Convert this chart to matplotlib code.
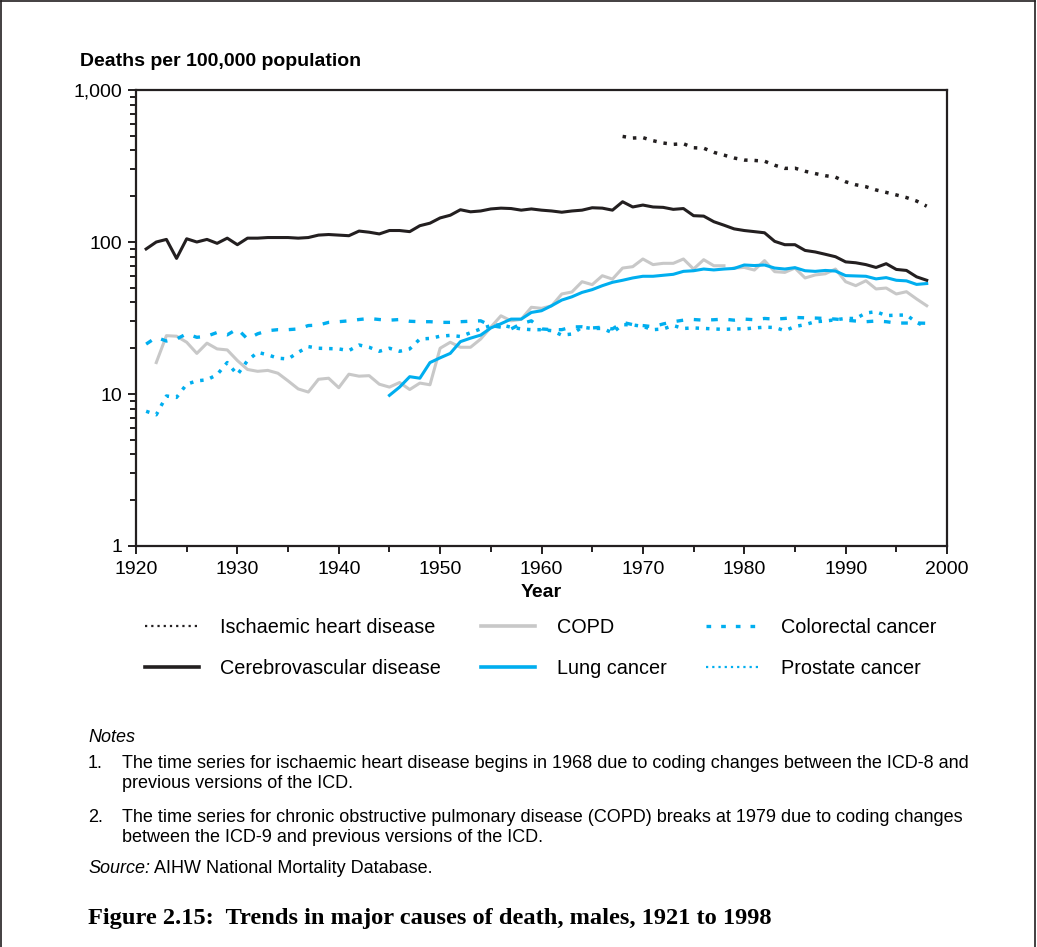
import matplotlib
matplotlib.use("Agg")
import matplotlib.pyplot as plt
from matplotlib.lines import Line2D
from matplotlib.ticker import FixedLocator, FuncFormatter, MultipleLocator, NullFormatter

# deaths per 100,000 population, males
years = list(range(1921, 1999))

cerebrovascular = [
    90, 100, 104, 78, 105, 100, 104, 98, 106, 96,
    106, 106, 107, 107, 107, 106, 107, 111, 112, 111,
    110, 118, 116, 113, 119, 119, 117, 128, 133, 144,
    150, 163, 158, 160, 165, 167, 166, 162, 165, 162,
    160, 157, 160, 162, 168, 167, 162, 184, 170, 175,
    170, 169, 164, 166, 149, 148, 136, 129, 122, 119,
    117, 115, 101, 96, 96, 88, 86, 83, 80, 74,
    73, 71, 68, 72, 66, 65, 59, 56,
]

ihd_years = list(range(1968, 1999))
ischaemic = [
    495, 483, 486, 464, 448, 439, 443, 417, 414, 389,
    373, 357, 346, 344, 340, 320, 305, 306, 292, 282,
    273, 267, 249, 238, 231, 220, 212, 204, 196, 186, 172,
]

copd_early_years = list(range(1922, 1979))
copd_early = [
    16.1, 24.2, 24.0, 21.9, 18.5, 21.6, 19.8, 19.5, 16.6, 14.5,
    14.1, 14.3, 13.7, 12.2, 10.8, 10.3, 12.5, 12.7, 11.0, 13.5,
    13.1, 13.2, 11.6, 11.1, 11.9, 10.7, 11.8, 11.5, 20.0, 21.9,
    20.3, 20.3, 23.0, 27.5, 32.7, 30.3, 31.0, 37.2, 36.6, 38.0,
    45.5, 46.9, 54.8, 52.4, 60.0, 57.0, 67.4, 68.8, 77.3, 71.0,
    72.4, 72.4, 77.3, 66.4, 76.5, 69.8, 69.8,
]
copd_late_years = list(range(1979, 1999))
copd_late = [
    67.4, 68.0, 65.4, 75.4, 63.8, 63.1, 67.4, 58.0, 60.7, 61.8,
    66.4, 54.8, 51.6, 55.6, 49.1, 49.8, 45.5, 47.1, 42.2, 38.1,
]

lung_years = list(range(1945, 1999))
lung = [
    9.8, 11.1, 13.0, 12.7, 16.1, 17.3, 18.5, 22.1, 23.3, 24.4,
    27.2, 29.0, 31.1, 31.1, 34.4, 35.3, 38.1, 41.5, 43.6, 46.6,
    48.6, 51.6, 54.3, 56.0, 58.0, 59.5, 59.5, 60.4, 61.3, 64.1,
    64.7, 66.4, 65.5, 66.4, 67.0, 70.6, 70.0, 70.6, 67.4, 66.4,
    67.8, 64.7, 64.1, 65.0, 64.4, 60.1, 59.8, 59.5, 57.2, 58.3,
    56.0, 55.5, 52.6, 53.3,
]

colorectal = [
    21.3, 23.6, 22.3, 23.0, 24.9, 23.6, 24.0, 25.4, 24.5, 26.8,
    23.0, 24.9, 26.1, 26.5, 26.5, 26.8, 28.2, 28.4, 29.6, 29.9,
    30.3, 30.9, 31.4, 30.9, 30.6, 30.9, 30.1, 29.9, 29.9, 29.6,
    29.6, 29.9, 30.1, 30.3, 28.2, 27.5, 26.8, 29.0, 30.3, 26.8,
    26.5, 26.5, 27.6, 27.7, 27.2, 27.5, 26.8, 29.6, 28.6, 28.2,
    27.7, 28.9, 29.9, 30.6, 30.9, 30.6, 30.8, 31.1, 30.6, 31.1,
    30.8, 31.4, 31.1, 31.4, 31.9, 31.7, 31.6, 31.4, 31.1, 30.6,
    30.2, 29.9, 30.2, 29.9, 29.3, 29.3, 29.3, 29.2,
]

prostate = [
    7.7, 7.3, 9.7, 9.5, 11.6, 12.2, 12.4, 13.4, 16.1, 13.4,
    16.6, 18.8, 18.1, 17.2, 17.0, 18.8, 20.5, 20.0, 19.9, 19.8,
    19.3, 21.0, 20.3, 19.1, 20.0, 19.1, 19.8, 23.0, 23.2, 24.0,
    24.3, 23.9, 25.3, 26.8, 28.2, 28.5, 27.5, 26.8, 26.5, 26.5,
    26.1, 24.4, 24.8, 27.5, 27.0, 27.0, 25.3, 28.6, 28.5, 27.8,
    26.5, 26.8, 28.2, 27.0, 27.2, 27.0, 26.8, 26.6, 26.8, 26.8,
    27.2, 27.5, 27.4, 26.1, 27.8, 28.6, 29.9, 30.2, 30.8, 31.4,
    31.4, 34.1, 34.8, 32.8, 33.0, 33.1, 29.6, 27.5,
]

BLACK = "#231f20"
GREY = "#c8c8c8"
CYAN = "#00aeef"

W, H = 1037, 947


def fx(px):
    return px / W


def fy(py):
    return 1 - py / H


plt.rcParams["font.family"] = ["Liberation Sans", "DejaVu Sans"]

fig = plt.figure(figsize=(W / 100, H / 100), dpi=100)
ax = fig.add_axes([fx(136), fy(546), fx(947) - fx(136), fy(90) - fy(546)])

lw = 2.2
dots = dict(dashes=(1.0, 2.0), dash_capstyle="butt")
ax.plot(ihd_years, ischaemic, color=BLACK, lw=2.5, **dots)
ax.plot(years, cerebrovascular, color=BLACK, lw=lw)
ax.plot(copd_early_years, copd_early, color=GREY, lw=lw)
ax.plot(copd_late_years, copd_late, color=GREY, lw=lw)
ax.plot(lung_years, lung, color=CYAN, lw=lw)
ax.plot(years, colorectal, color=CYAN, lw=2.4, dashes=(2.0, 3.2), dash_capstyle="butt")
ax.plot(years, prostate, color=CYAN, lw=2.5, **dots)

ax.set_yscale("log")
ax.set_ylim(1, 1000)
ax.set_xlim(1920, 2000)
ax.yaxis.set_major_locator(FixedLocator([1, 10, 100, 1000]))
ax.yaxis.set_major_formatter(FuncFormatter(lambda v, p: f"{v:,.0f}"))
minors = [m * d for d in (1, 10, 100) for m in range(2, 10)]
ax.yaxis.set_minor_locator(FixedLocator(minors))
ax.yaxis.set_minor_formatter(NullFormatter())
ax.xaxis.set_major_locator(MultipleLocator(10))
ax.xaxis.set_minor_locator(MultipleLocator(5))

for s in ax.spines.values():
    s.set_linewidth(1.6)
    s.set_color(BLACK)
ax.tick_params(which="major", length=6, width=1.4, labelsize=14, color=BLACK, pad=4)
ax.tick_params(axis="x", which="major", pad=5)
ax.tick_params(which="minor", length=4.5, width=1.4, color=BLACK)

fig.text(fx(80), fy(62), "Deaths per 100,000 population", fontsize=14,
         fontweight="bold", va="center", ha="left")
fig.text(fx(541), fy(592), "Year", fontsize=14, fontweight="bold",
         va="center", ha="center")

handles = [
    Line2D([], [], color=BLACK, lw=1.6, dashes=(1, 1.8)),
    Line2D([], [], color=BLACK, lw=2.6),
    Line2D([], [], color=GREY, lw=2.6),
    Line2D([], [], color=CYAN, lw=2.6),
    Line2D([], [], color=CYAN, lw=2.4, dashes=(1.4, 3.0)),
    Line2D([], [], color=CYAN, lw=1.6, dashes=(1, 1.8)),
]
labels = [
    "Ischaemic heart disease", "Cerebrovascular disease", "COPD",
    "Lung cancer", "Colorectal cancer", "Prostate cancer",
]
fig.legend(handles, labels, ncol=3, loc="center left",
           bbox_to_anchor=(fx(145), fy(648)), frameon=False, fontsize=14.3,
           handlelength=2.7, handletextpad=1.1, columnspacing=2.0,
           labelspacing=1.15, borderaxespad=0, borderpad=0)

notes = 13.0
fig.text(fx(88), fy(737), "Notes", fontsize=notes, style="italic", va="center")
fig.text(fx(88), fy(763), "1.", fontsize=notes, va="center")
fig.text(fx(122), fy(763), "The time series for ischaemic heart disease begins in 1968 "
         "due to coding changes between the ICD-8 and", fontsize=notes, va="center")
fig.text(fx(122), fy(783), "previous versions of the ICD.", fontsize=notes, va="center")
fig.text(fx(88), fy(817), "2.", fontsize=notes, va="center")
fig.text(fx(122), fy(817), "The time series for chronic obstructive pulmonary disease "
         "(COPD) breaks at 1979 due to coding changes", fontsize=notes, va="center")
fig.text(fx(122), fy(837), "between the ICD-9 and previous versions of the ICD.",
         fontsize=notes, va="center")
src = fig.text(fx(88), fy(868), "Source:", fontsize=notes, style="italic", va="center")
fig.canvas.draw()
bb = src.get_window_extent()
fig.text(bb.x1 / W + fx(4), fy(868), "AIHW National Mortality Database.",
         fontsize=notes, va="center")

fig.text(fx(88), fy(918), "Figure 2.15:  Trends in major causes of death, males, 1921 to 1998",
         fontsize=17.6, fontweight="bold", family="Liberation Serif", va="center")

# frame round the figure, open at the bottom
frame = dict(color=BLACK, lw=1.2, transform=fig.transFigure)
fig.add_artist(Line2D([fx(1), fx(1)], [0, fy(1)], **frame))
fig.add_artist(Line2D([fx(1), fx(1035)], [fy(1), fy(1)], **frame))
fig.add_artist(Line2D([fx(1035), fx(1035)], [0, fy(1)], **frame))

fig.savefig("out.png", dpi=100)
